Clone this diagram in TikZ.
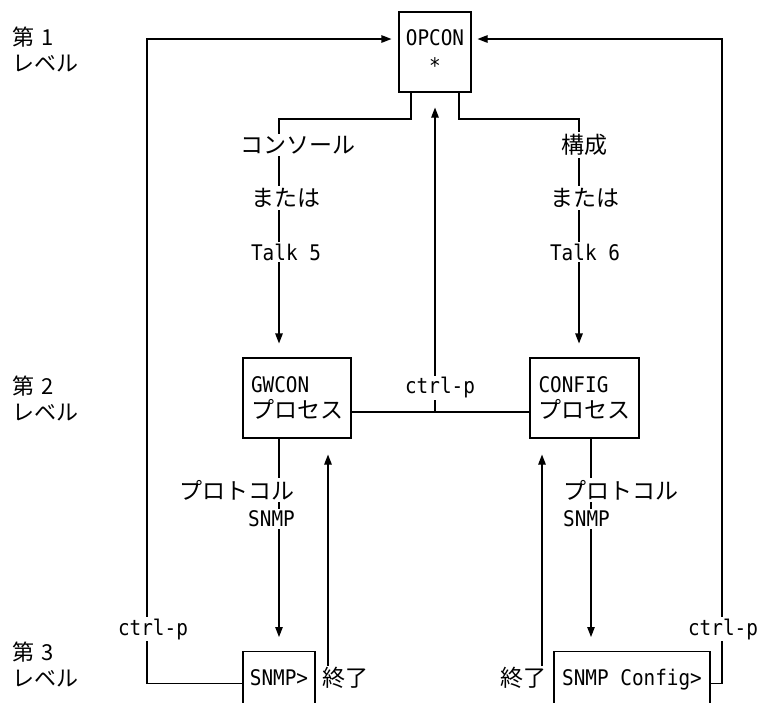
\documentclass[tikz,border=0pt]{standalone}
\usepackage{fontspec}
\setmonofont{DejaVu Sans Mono}[FakeStretch=0.9]
\newfontfamily\jpfont{Noto Sans CJK JP}
\usetikzlibrary{arrows.meta}
\newcommand\jt[1]{{\fontsize{23}{26}\selectfont\jpfont #1}}
\tikzset{
  box/.style={draw,line width=1.1pt,inner sep=0pt},
  link/.style={line width=1.1pt},
  arr/.style={link,-{Triangle[length=10pt,width=7.5pt]}},
  tt/.style={font=\fontsize{21.5}{26}\selectfont\ttfamily},
  jp/.style={font=\fontsize{23}{26}\selectfont\jpfont},
  lbl/.style={fill=white,inner sep=2pt},
  lvl/.style={font=\fontsize{22}{26}\selectfont\jpfont,align=left,anchor=west,inner sep=0pt}
}

\begin{document}
\begin{tikzpicture}[x=1pt,y=-1pt]
            \useasboundingbox (0,0) rectangle (765,702);
            \node[lvl] (lv1) at (12,49){第\hspace{7pt}1\\レベル};
            \node[lvl] (lv2) at (12,398){第\hspace{7pt}2\\レベル};
            \node[lvl] (lv3) at (12,664){第\hspace{7pt}3\\レベル};

            \node[box,tt,align=center,minimum width=72pt,minimum height=80pt] (opcon) at (435,52){OPCON\\[2pt]*};
            \node[box,tt,align=left,minimum width=108pt,minimum height=80pt] (gwcon) at (297,398){GWCON\\\jt{プロセス}};
            \node[box,tt,align=left,minimum width=109pt,minimum height=80pt] (config) at (584.5,398){CONFIG\\\jt{プロセス}};
            \node[box,tt,anchor=north,minimum width=72pt,text height=34pt,text depth=40pt] (snmp) at (279,651){SNMP>};
            \node[box,tt,anchor=north,minimum width=156pt,text height=34pt,text depth=40pt] (snmpcfg) at (632,651){SNMP Config>};

            \coordinate (lout) at (147,39);
            \coordinate (rout) at (722,39);
            \coordinate (lbend) at (279,119);
            \coordinate (rbend) at (579,119);
            \coordinate (mid) at (435,412);
            \coordinate (cfgleg) at (591,438);
            \coordinate (quitl) at (328,666);
            \coordinate (quitr) at (542,666);

            \draw[arr,shorten >=7pt] (snmp.mid west) -| (lout) -- (lout -| opcon.west);
            \draw[arr,shorten >=6pt] (snmpcfg.mid east) -| (rout) -- (rout -| opcon.east);
            \draw[arr,shorten >=14pt] ([xshift=-24pt]opcon.south) |- (lbend) -- (lbend |- gwcon.north);
            \draw[arr,shorten >=14pt] ([xshift=24pt]opcon.south) |- (rbend) -- (rbend |- config.north);
            \draw[link] (gwcon.east |- mid) -- (config.west |- mid);
            \draw[arr,shorten >=15pt] (mid) -- (opcon.south);
            \draw[arr,shorten >=14pt] (gwcon.south -| snmp.north) -- (snmp.north);
            \draw[arr,shorten >=14pt] (cfgleg) -- (cfgleg |- snmpcfg.north);
            \draw[arr,shorten >=16pt] (quitl) -- (quitl |- gwcon.south);
            \draw[arr,shorten >=16pt] (quitr) -- (quitr |- config.south);

            \node[jp,lbl] (console) at (298,145){コンソール};
            \node[jp,lbl] (orl) at (286,198){または};
            \node[tt,lbl] (talk5) at (286,252){Talk 5};
            \node[jp,lbl] (kosei) at (584,145){構成};
            \node[jp,lbl] (orr) at (585,198){または};
            \node[tt,lbl] (talk6) at (585,252){Talk 6};
            \node[tt,lbl] (ctrlpm) at (440,388){ctrl-p};
            \node[tt,lbl] (ctrlpl) at (153,629){ctrl-p};
            \node[tt,lbl] (ctrlpr) at (723,629){ctrl-p};
            \node[jp,lbl,anchor=east] (protl) at (297,490){プロトコル};
            \node[tt,lbl,anchor=east] (snmpl) at (297,519){SNMP};
            \node[jp,lbl,anchor=west] (protr) at (561,490){プロトコル};
            \node[tt,lbl,anchor=west] (snmpr) at (561,519){SNMP};
            \node[jp] (quitlbl) at (345,678){終了};
            \node[jp] (quitrbl) at (523,678){終了};
          \end{tikzpicture}
\end{document}
